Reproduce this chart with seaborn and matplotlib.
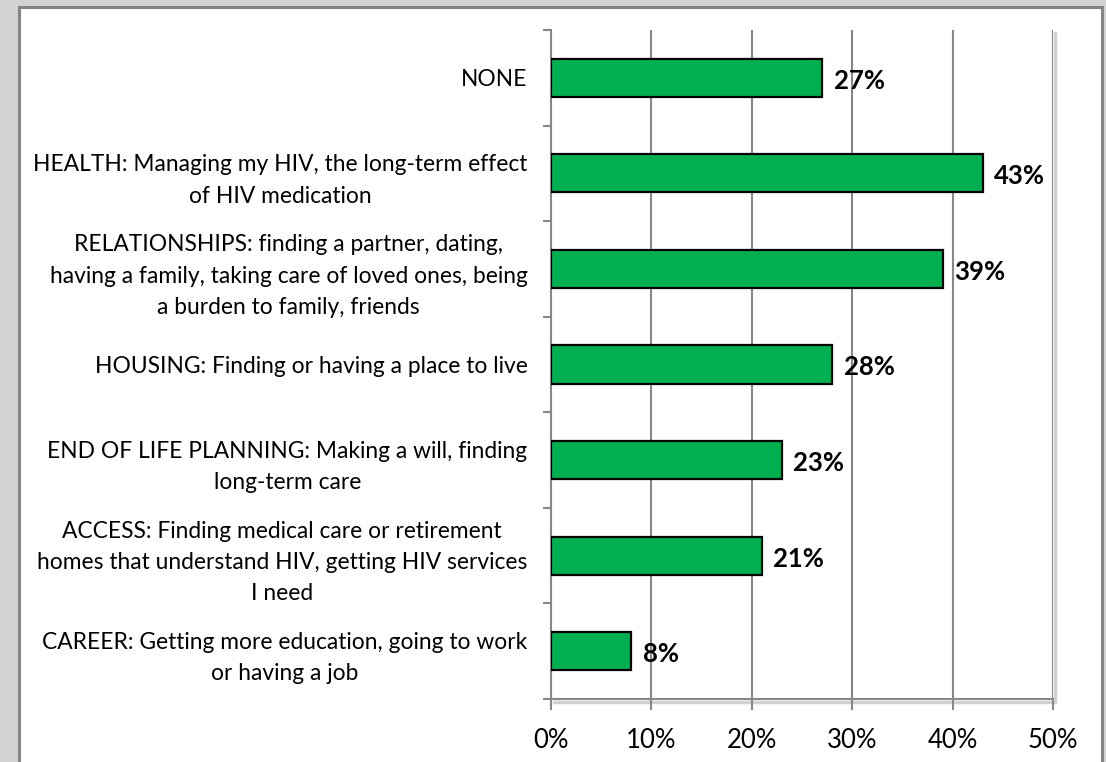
import matplotlib
matplotlib.use("Agg")
import matplotlib.pyplot as plt
from matplotlib.patches import Rectangle
from matplotlib.ticker import PercentFormatter
import seaborn as sns
import pandas as pd

# Survey responses: share of respondents naming each concern
categories = [
    "NONE",
    "HEALTH: Managing my HIV, the long-term effect\nof HIV medication",
    "RELATIONSHIPS: finding a partner, dating,\nhaving a family, taking care of loved ones, being\na burden to family, friends",
    "HOUSING: Finding or having a place to live",
    "END OF LIFE PLANNING: Making a will, finding\nlong-term care",
    "ACCESS: Finding medical care or retirement\nhomes that understand HIV, getting HIV services\nI need",
    "CAREER: Getting more education, going to work\nor having a job",
]
values = [27, 43, 39, 28, 23, 21, 8]
x_ticks = [0, 10, 20, 30, 40, 50]

df = pd.DataFrame({"category": categories, "pct": values})

sns.set_theme(style="white")
plt.rcParams["font.family"] = ["Lato", "DejaVu Sans"]

W, H = 1106, 762
fig = plt.figure(figsize=(W / 100, H / 100), dpi=100)
fig.patch.set_facecolor("#d3d3d3")

# White chart panel with grey frame
panel = Rectangle((19 / W, -0.05), (1102 - 19) / W, 1.05 - 7 / H,
                  transform=fig.transFigure, facecolor="white",
                  edgecolor="#858585", linewidth=2.2, zorder=-10)
fig.patches.append(panel)

ax = fig.add_axes([551 / W, 1 - 699 / H, (1053 - 551) / W, (699 - 30) / H])
ax.set_facecolor("none")

sns.barplot(data=df, x="pct", y="category", orient="h", color="#00b050",
            edgecolor="black", linewidth=1.6, width=0.4, saturation=1,
            ax=ax, zorder=3)

ax.set_xlim(0, 50)
ax.set_ylim(len(categories) - 0.5, -0.5)
ax.set_xticks(x_ticks)
ax.xaxis.set_major_formatter(PercentFormatter(decimals=0))
ax.set_xlabel("")
ax.set_ylabel("")

# Vertical gridlines
for xv in x_ticks[1:]:
    ax.axvline(xv, color="#878787", linewidth=1.5, zorder=1)

# Soft shadow along the bottom and right edges of the plot area
ax.plot([0.005, 1.004], [-0.004, -0.004], transform=ax.transAxes,
        color="#d0d0d0", linewidth=2.5, clip_on=False, zorder=0)
ax.plot([1.004, 1.004], [-0.004, 0.995], transform=ax.transAxes,
        color="#d0d0d0", linewidth=2.5, clip_on=False, zorder=0)

# Spines
for s in ["top", "right"]:
    ax.spines[s].set_visible(False)
for s in ["left", "bottom"]:
    ax.spines[s].set_color("#878787")
    ax.spines[s].set_linewidth(1.5)

# Category-boundary ticks on the y axis
ax.set_yticks([i - 0.5 for i in range(len(categories) + 1)], minor=True)
ax.tick_params(axis="y", which="minor", length=6, width=1.5,
               color="#878787", left=True)
ax.tick_params(axis="y", which="major", length=0, pad=17,
               labelsize=16.4, labelcolor="black")
ax.tick_params(axis="x", which="major", length=8, width=1.5,
               color="#878787", bottom=True, pad=13,
               labelsize=18.5, labelcolor="black")
for lab in ax.get_yticklabels():
    lab.set_multialignment("center")
    lab.set_linespacing(1.6)

# Value labels at bar ends
for i, v in enumerate(values):
    ax.text(v + 1.15, i + 0.03, f"{v}%", va="center", ha="left",
            fontsize=18.5, fontweight="bold", color="black", zorder=4)

fig.savefig("out.png", dpi=100, facecolor=fig.get_facecolor())
